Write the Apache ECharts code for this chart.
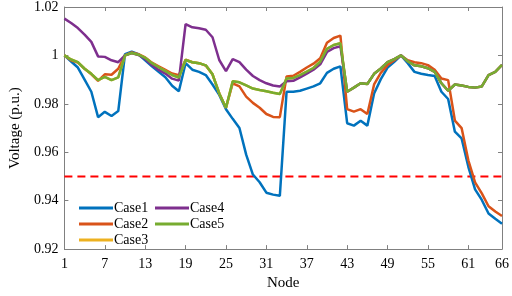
<!DOCTYPE html>
<html>
<head>
<meta charset="utf-8">
<script src="https://cdn.jsdelivr.net/npm/echarts@6/dist/echarts.min.js"></script>
<style>
  html, body { margin: 0; padding: 0; background: #fff; }
  #main { width: 512px; height: 296px; }
</style>
</head>
<body>
<div id="main"></div>
<script>
// node numbers 1..66
var nodes = [];
for (var i = 1; i <= 66; i++) nodes.push(i);

var case1 = [1.000, 0.9975, 0.995, 0.990, 0.985, 0.9745, 0.9767, 0.975, 0.977, 1.0005,
  1.0015, 1.0005, 0.998, 0.9955, 0.9932, 0.991, 0.9875, 0.9852, 0.9968, 0.9941,
  0.9932, 0.9919, 0.988, 0.9837, 0.9778, 0.9738, 0.970, 0.959, 0.9508, 0.9476,
  0.9433, 0.9425, 0.942, 0.985, 0.985, 0.9854, 0.9863, 0.9872, 0.9885, 0.9928,
  0.9945, 0.9955, 0.972, 0.971, 0.973, 0.971, 0.9843, 0.9902, 0.995, 0.9974,
  1.000, 0.9968, 0.9932, 0.9924, 0.9919, 0.9915, 0.985, 0.982, 0.9685, 0.9657,
  0.954, 0.9447, 0.9403, 0.9347, 0.9325, 0.9305];

var case2 = [1.000, 0.998, 0.997, 0.9945, 0.9922, 0.9895, 0.9922, 0.992, 0.9945, 1.000,
  1.0012, 1.0005, 0.9992, 0.997, 0.9955, 0.994, 0.9925, 0.9918, 0.9982, 0.9972,
  0.9968, 0.9958, 0.9922, 0.9843, 0.9784, 0.9885, 0.9872, 0.983, 0.9804, 0.9784,
  0.9758, 0.9746, 0.9745, 0.9913, 0.9916, 0.9932, 0.995, 0.9966, 0.9988, 1.0052,
  1.0072, 1.0082, 0.9778, 0.9768, 0.9778, 0.9758, 0.988, 0.9928, 0.996, 0.998,
  1.000, 0.998, 0.9972, 0.9968, 0.996, 0.9941, 0.9905, 0.9898, 0.9731, 0.970,
  0.9567, 0.9476, 0.943, 0.9377, 0.9355, 0.9337];

var case3 = [1.000, 0.9983, 0.9972, 0.9945, 0.9924, 0.9898, 0.9911, 0.9898, 0.9909, 1.000,
  1.001, 1.0003, 0.999, 0.9968, 0.9951, 0.9935, 0.9919, 0.9909, 0.9981, 0.9972,
  0.9968, 0.9959, 0.9922, 0.9843, 0.9784, 0.9893, 0.9889, 0.9876, 0.9863, 0.9857,
  0.9852, 0.9846, 0.9841, 0.9905, 0.9907, 0.9919, 0.9933, 0.9948, 0.9974, 1.0027,
  1.0043, 1.005, 0.985, 0.9867, 0.9885, 0.9882, 0.9924, 0.9946, 0.9972, 0.9985,
  1.000, 0.9976, 0.9959, 0.9955, 0.9947, 0.9932, 0.9885, 0.9854, 0.988, 0.9876,
  0.987, 0.9867, 0.9872, 0.9919, 0.9932, 0.9961];

var case4 = [1.0152, 1.0134, 1.0113, 1.0086, 1.0056, 0.9996, 0.9994, 0.998, 0.9972, 1.000,
  1.001, 1.0002, 0.9985, 0.996, 0.994, 0.9925, 0.9904, 0.9896, 1.0129, 1.0116,
  1.0112, 1.0106, 1.0075, 0.9981, 0.9935, 0.9985, 0.9972, 0.9941, 0.9915, 0.9898,
  0.9885, 0.9876, 0.9872, 0.9893, 0.9895, 0.9909, 0.9925, 0.9941, 0.9963, 1.0014,
  1.003, 1.0038, 0.985, 0.9867, 0.9885, 0.9882, 0.9924, 0.9946, 0.9972, 0.9985,
  1.000, 0.9976, 0.9959, 0.9955, 0.9947, 0.9932, 0.9885, 0.9854, 0.988, 0.9876,
  0.987, 0.9867, 0.9872, 0.9919, 0.9932, 0.9961];

var case5 = [1.000, 0.9983, 0.9972, 0.9945, 0.9924, 0.9898, 0.9911, 0.9898, 0.9909, 1.000,
  1.001, 1.0003, 0.999, 0.9968, 0.9951, 0.9935, 0.9919, 0.9909, 0.9981, 0.9972,
  0.9968, 0.9959, 0.9922, 0.9843, 0.9784, 0.9893, 0.9889, 0.9876, 0.9863, 0.9857,
  0.9852, 0.9846, 0.9841, 0.9905, 0.9907, 0.9919, 0.9933, 0.9948, 0.9974, 1.0027,
  1.0043, 1.005, 0.985, 0.9867, 0.9885, 0.9882, 0.9924, 0.9946, 0.9972, 0.9985,
  1.000, 0.9976, 0.9959, 0.9955, 0.9947, 0.9932, 0.9885, 0.9854, 0.988, 0.9876,
  0.987, 0.9867, 0.9872, 0.9919, 0.9932, 0.9961];

var limit = 0.95;   // 电压下限
var names = ['Case1', 'Case2', 'Case3', 'Case4', 'Case5'];
var colors = ['#0072BD', '#D95319', '#EDB120', '#7E2F8E', '#77AC30'];

function pairs(vals) {
  return nodes.map(function (n, k) { return [n, vals[k]]; });
}

var FONT = 'Liberation Serif';
var myChart = echarts.init(document.getElementById('main'));

var axisLine = { show: true, lineStyle: { color: '#808080', width: 1 } };
var tick = { show: true, inside: true, length: 4, lineStyle: { color: '#808080' } };

var lines = [case1, case2, case3, case4, case5].map(function (vals, k) {
  return {
    name: names[k],
    type: 'line',
    data: pairs(vals),
    symbol: 'none',
    lineStyle: { width: 2.5, color: colors[k] },
    itemStyle: { color: colors[k] },
    animation: false
  };
});

lines.unshift({
  name: 'limit',
  type: 'line',
  data: [[nodes[0], limit], [nodes[nodes.length - 1], limit]],
  symbol: 'none',
  lineStyle: { width: 2, color: '#FF0000', type: [8, 5] },
  animation: false,
  z: 1
});

var option = {
  backgroundColor: '#fff',
  animation: false,
  grid: { left: 52, right: 9, top: 6, bottom: 36 },
  legend: [{
    data: ['Case1', 'Case2', 'Case3'],
    orient: 'vertical',
    left: 74, top: 196,
    icon: 'rect', itemWidth: 34, itemHeight: 3, itemGap: 2,
    textStyle: { fontFamily: FONT, fontSize: 14, color: '#000', padding: [0, 0, 0, -4] }
  }, {
    data: ['Case4', 'Case5'],
    orient: 'vertical',
    left: 150, top: 196,
    icon: 'rect', itemWidth: 34, itemHeight: 3, itemGap: 2,
    textStyle: { fontFamily: FONT, fontSize: 14, color: '#000', padding: [0, 0, 0, -4] }
  }],
  xAxis: [{
    type: 'value', min: 1, max: 66, interval: 6,
    name: 'Node', nameLocation: 'middle', nameGap: 25,
    nameTextStyle: { fontFamily: FONT, fontSize: 15, color: '#000' },
    axisLine: axisLine, axisTick: tick, splitLine: { show: false },
    axisLabel: { fontFamily: FONT, fontSize: 14, color: '#000', margin: 8 }
  }, {
    type: 'value', min: 1, max: 66, interval: 6, position: 'top',
    axisLine: axisLine, axisTick: tick, splitLine: { show: false },
    axisLabel: { show: false }
  }],
  yAxis: [{
    type: 'value', min: 0.92, max: 1.02, interval: 0.02,
    name: 'Voltage (p.u.)', nameLocation: 'middle', nameGap: 40,
    nameTextStyle: { fontFamily: FONT, fontSize: 15, color: '#000' },
    axisLine: axisLine, axisTick: tick, splitLine: { show: false },
    axisLabel: {
      fontFamily: FONT, fontSize: 14, color: '#000', margin: 6,
      formatter: function (v) { return String(+v.toFixed(2)); }
    }
  }, {
    type: 'value', min: 0.92, max: 1.02, interval: 0.02, position: 'right',
    axisLine: axisLine, axisTick: tick, splitLine: { show: false },
    axisLabel: { show: false }
  }],
  series: lines
};

myChart.setOption(option);
</script>
</body>
</html>
